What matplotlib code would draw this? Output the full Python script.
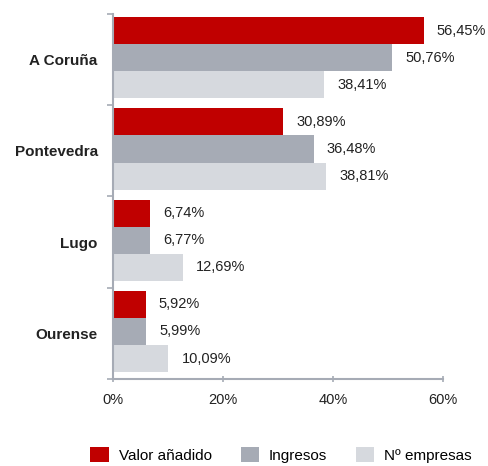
import matplotlib
matplotlib.use("Agg")
import matplotlib.pyplot as plt
import numpy as np

categories = ["A Coruña", "Pontevedra", "Lugo", "Ourense"]
series_names = ["Valor añadido", "Ingresos", "Nº empresas"]
valor_anadido = [56.45, 30.89, 6.74, 5.92]
ingresos = [50.76, 36.48, 6.77, 5.99]
n_empresas = [38.41, 38.81, 12.69, 10.09]
x_ticks = [0, 20, 40, 60]
x_tick_labels = ["0%", "20%", "40%", "60%"]

colors = ["#C00000", "#A6ABB5", "#D6D9DE"]
axis_col = "#A6ABB5"

plt.rcParams['font.family'] = ['Liberation Sans', 'DejaVu Sans']

fig = plt.figure(figsize=(4.89, 4.66), dpi=100)
ax = fig.add_axes([0.231, 0.187, 0.675, 0.783])

y = np.arange(len(categories))
h = 0.297
data = [valor_anadido, ingresos, n_empresas]
for i, (vals, c, name) in enumerate(zip(data, colors, series_names)):
    pos = y + (i - 1) * h - 0.02
    ax.barh(pos, vals, height=h, color=c, label=name, linewidth=0)
    for p, v in zip(pos, vals):
        ax.text(v + 2.4, p, f"{v:.2f}%".replace(".", ","), va="center", ha="left",
                fontsize=10.5, color="#222222")

ax.set_xlim(0, 60)
ax.set_ylim(3.5, -0.5)
ax.set_xticks(x_ticks)
ax.set_xticklabels(x_tick_labels, fontsize=10.5, color="#222222")
ax.set_yticks(y)
ax.set_yticklabels(categories, fontsize=11, fontweight="bold", color="#222222")
ax.tick_params(axis="y", which="major", length=0, pad=11)
ax.set_yticks(np.arange(-0.5, 4.0, 1.0), minor=True)
ax.tick_params(axis="y", which="minor", length=4, color=axis_col, width=1.2)
ax.tick_params(axis="x", which="major", length=4, direction="inout", color=axis_col,
               width=1.2, pad=8)

for s in ["top", "right"]:
    ax.spines[s].set_visible(False)
for s in ["left", "bottom"]:
    ax.spines[s].set_color(axis_col)
    ax.spines[s].set_linewidth(1.5)

handles, labels = ax.get_legend_handles_labels()
fig.legend(handles, labels, loc="center", bbox_to_anchor=(0.575, 0.024), ncol=3,
           frameon=False, fontsize=11, handlelength=1.2, handleheight=1.1,
           columnspacing=1.9, handletextpad=0.65)

fig.savefig("out.png", dpi=100)
